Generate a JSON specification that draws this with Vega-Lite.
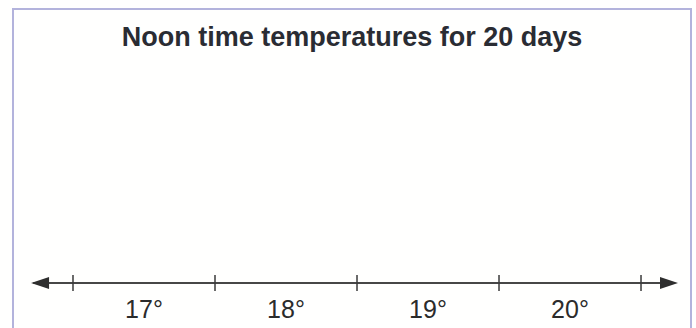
{
  "$schema": "https://vega.github.io/schema/vega-lite/v6.json",
  "autosize": {"type": "none"},
  "width": 678,
  "height": 321,
  "padding": {"left": 13, "top": 9, "right": 5, "bottom": -2},
  "background": "#fffffe",
  "config": {
    "view": {"stroke": "#b3b3dc", "strokeWidth": 2},
    "font": "Liberation Sans"
  },
  "title": {
    "text": "Noon time temperatures for 20 days",
    "fontSize": 27,
    "fontWeight": "bold",
    "font": "Liberation Sans",
    "color": "#2a2c33",
    "anchor": "middle",
    "frame": "group",
    "baseline": "alphabetic",
    "offset": -64
  },
  "datasets": {
    "labels": [
      {"temp": 17, "label": "17°"},
      {"temp": 18, "label": "18°"},
      {"temp": 19, "label": "19°"},
      {"temp": 20, "label": "20°"}
    ],
    "ticks": [
      {"edge": 16.5},
      {"edge": 17.5},
      {"edge": 18.5},
      {"edge": 19.5},
      {"edge": 20.5}
    ],
    "line": [{"start": 16.22, "end": 20.74}],
    "arrows": [
      {"pos": 16.268, "dir": "left"},
      {"pos": 20.697, "dir": "right"}
    ]
  },
  "layer": [
    {
      "data": {"name": "line"},
      "mark": {"type": "rule", "color": "#474747", "strokeWidth": 2},
      "encoding": {
        "x": {"field": "start", "type": "quantitative", "scale": {"domain": [16.0775, 20.852], "nice": false, "zero": false}, "axis": null},
        "x2": {"field": "end"},
        "y": {"datum": 0, "type": "quantitative", "scale": {"domain": [-1.2, 7], "nice": false, "zero": false}, "axis": null}
      }
    },
    {
      "data": {"name": "ticks"},
      "mark": {"type": "tick", "orient": "vertical", "size": 16, "thickness": 1.5, "color": "#3a3a3a", "opacity": 1},
      "encoding": {
        "x": {"field": "edge", "type": "quantitative"},
        "y": {"datum": 0, "type": "quantitative"}
      }
    },
    {
      "data": {"name": "arrows"},
      "mark": {"type": "point", "filled": true, "size": 324, "color": "#2e2e2e", "opacity": 1},
      "encoding": {
        "x": {"field": "pos", "type": "quantitative"},
        "y": {"datum": 0, "type": "quantitative"},
        "shape": {
          "field": "dir",
          "type": "nominal",
          "scale": {"domain": ["left", "right"], "range": ["M-1,0L1,-0.667L1,0.667Z", "M1,0L-1,-0.667L-1,0.667Z"]},
          "legend": null
        }
      }
    },
    {
      "data": {"name": "labels"},
      "mark": {"type": "text", "fontSize": 25, "color": "#2b2b2b", "baseline": "alphabetic", "dy": 35},
      "encoding": {
        "x": {"field": "temp", "type": "quantitative"},
        "y": {"datum": 0, "type": "quantitative"},
        "text": {"field": "label"}
      }
    }
  ]
}
